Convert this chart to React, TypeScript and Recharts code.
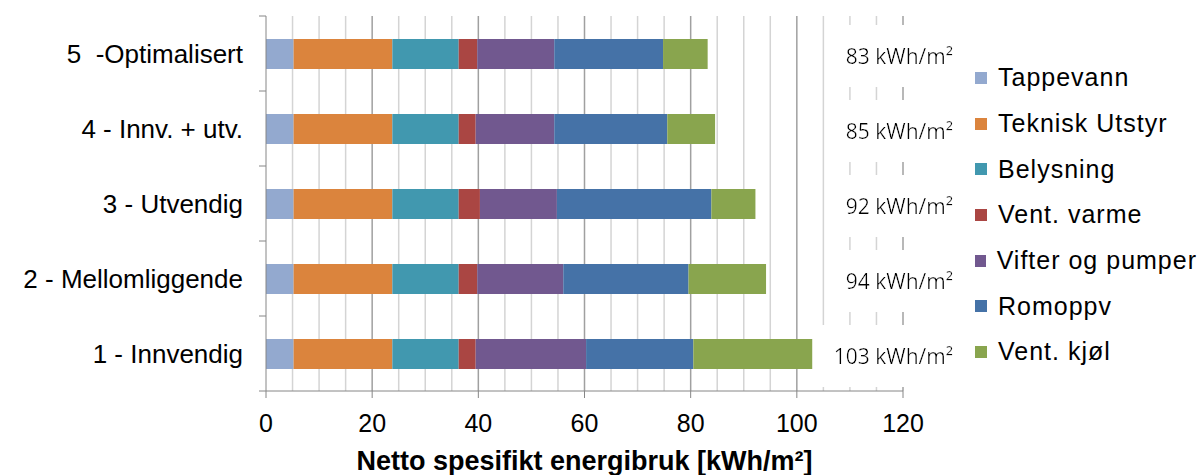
import {
  BarChart, Bar, XAxis, YAxis, CartesianGrid, Legend, LabelList,
} from "recharts";

// Scenarios, top row first
const scenarios = [
  "5\u00a0\u00a0-Optimalisert",
  "4 - Innv. + utv.",
  "3 - Utvendig",
  "2 - Mellomliggende",
  "1 - Innvendig",
];

// kWh/m² per post
const tappevann = [5.2, 5.2, 5.2, 5.2, 5.2];
const tekniskUtstyr = [18.6, 18.6, 18.6, 18.6, 18.6];
const belysning = [12.5, 12.5, 12.5, 12.5, 12.5];
const ventVarme = [3.5, 3.2, 4.0, 3.5, 3.2];
const vifterOgPumper = [14.5, 14.8, 14.5, 16.2, 20.8];
const romoppv = [20.5, 21.3, 29.1, 23.6, 20.2];
const ventKjol = [8.4, 9.0, 8.3, 14.6, 22.4];

const xTicks = [0, 20, 40, 60, 80, 100, 120];
const majorGrid = [20, 40, 60, 80, 100, 120];
const minorGrid = [5, 10, 15, 25, 30, 35, 45, 50, 55, 65, 70, 75, 85, 90, 95, 105, 110, 115];

const series = [
  { key: "tappevann", name: "Tappevann", color: "#93A9CF", values: tappevann },
  { key: "teknisk", name: "Teknisk Utstyr", color: "#DB843D", values: tekniskUtstyr },
  { key: "belysning", name: "Belysning", color: "#4198AF", values: belysning },
  { key: "ventVarme", name: "Vent. varme", color: "#AA4643", values: ventVarme },
  { key: "vifter", name: "Vifter og pumper", color: "#71588F", values: vifterOgPumper },
  { key: "romoppv", name: "Romoppv", color: "#4572A7", values: romoppv },
  { key: "ventKjol", name: "Vent. kjøl", color: "#89A54E", values: ventKjol },
];

const data = scenarios.map((name, i) => {
  const row: Record<string, number | string> = { name };
  let total = 0;
  series.forEach((s) => {
    row[s.key] = s.values[i];
    total += s.values[i];
  });
  row.total = Math.round(total);
  return row;
});

const W = 1197;
const H = 475;
const MARGIN = { top: 16, right: 294, bottom: 0, left: 0 };
const X_AXIS_H = 84;
const Y_AXIS_W = 266;
const PLOT_RIGHT = W - MARGIN.right;
const BAND = (H - MARGIN.top - MARGIN.bottom - X_AXIS_H) / scenarios.length;
const AXIS_COLOR = "#868686";
const FONT = "'Liberation Sans', Arial, sans-serif";

function CategoryTick(props: any) {
  const { x, y, payload, index } = props;
  return (
    <g>
      <text x={x - 23} y={y} textAnchor="end" dominantBaseline="central"
        fontFamily={FONT} fontSize={26} fill="#000">
        {payload.value}
      </text>
      {index === 0 && (
        <line x1={x - 7} x2={x} y1={y - BAND / 2} y2={y - BAND / 2} stroke={AXIS_COLOR} />
      )}
      <line x1={x - 7} x2={x} y1={y + BAND / 2} y2={y + BAND / 2} stroke={AXIS_COLOR} />
    </g>
  );
}

// total per scenario, on a white box that hides the grid behind it
function TotalLabel(props: any) {
  const vb = props.viewBox ?? props;
  const cy = vb.y + vb.height / 2 + 2;
  return (
    <text x={PLOT_RIGHT + 50} y={cy} textAnchor="end" dominantBaseline="central"
      fontFamily="'Open Sans', sans-serif" fontSize={21} fill="#000" filter="url(#labelBg)">
      {`${props.value} kWh/m²`}
    </text>
  );
}

function LegendList() {
  return (
    <div style={{ fontFamily: FONT, fontSize: 25, letterSpacing: 1, color: "#000" }}>
      {series.map((s) => (
        <div key={s.key} style={{ height: 45.7, display: "flex", alignItems: "center" }}>
          <span style={{ width: 12, height: 12, background: s.color, marginLeft: 3, marginRight: 11 }} />
          <span style={{ whiteSpace: "nowrap" }}>{s.name}</span>
        </div>
      ))}
    </div>
  );
}

export default function App() {
  return (
    <div style={{ position: "absolute", left: 0, top: 0, width: W, height: H, background: "#fff" }}>
      <BarChart width={W} height={H} data={data} layout="vertical" margin={MARGIN} barSize={30}>
        <defs>
          <filter id="labelBg" x="-0.1" y="-0.6" width="1.2" height="2.2">
            <feFlood floodColor="#fff" />
            <feComposite in="SourceGraphic" />
          </filter>
        </defs>
        <CartesianGrid horizontal={false} verticalValues={minorGrid} stroke="#d4d4d4" strokeWidth={1.5} />
        <CartesianGrid horizontal={false} verticalValues={majorGrid} stroke="#a0a0a0" strokeWidth={1.5} />
        <XAxis type="number" domain={[0, 120]} ticks={xTicks} interval={0} height={X_AXIS_H}
          tick={{ fontFamily: FONT, fontSize: 25, fill: "#000" }}
          tickSize={7} tickMargin={16}
          stroke={AXIS_COLOR}
          label={{
            value: "Netto spesifikt energibruk [kWh/m²]", position: "insideBottom",
            offset: 5, style: { fontFamily: FONT, fontSize: 27, fontWeight: "bold", fill: "#000" },
          }} />
        <YAxis type="category" dataKey="name" width={Y_AXIS_W} tick={<CategoryTick />}
          tickLine={false} tickSize={0} tickMargin={0} interval={0} stroke={AXIS_COLOR} />
        <Legend layout="horizontal" verticalAlign="middle" align="center"
          wrapperStyle={{ left: 972, top: 55, width: 225 }} content={<LegendList />} />
        {series.map((s) => (
          <Bar key={s.key} dataKey={s.key} name={s.name} stackId="a" fill={s.color}
            isAnimationActive={false}>
            {s.key === "ventKjol" && <LabelList dataKey="total" content={<TotalLabel />} />}
          </Bar>
        ))}
      </BarChart>
    </div>
  );
}
